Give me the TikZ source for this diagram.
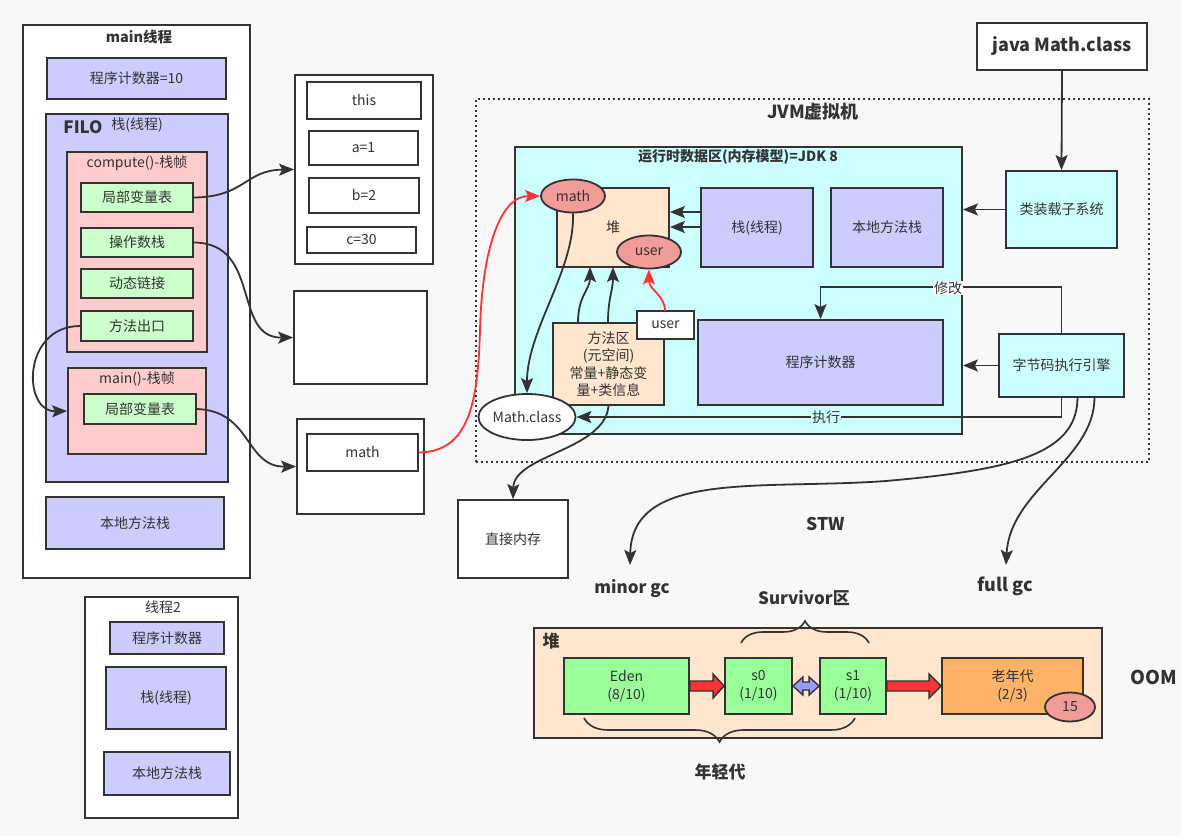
\documentclass[tikz,border=0pt]{standalone}
\usepackage{fontspec}
\setmainfont{Noto Sans CJK SC}
\usetikzlibrary{arrows.meta,calc,decorations.pathreplacing,shapes.geometric}

\definecolor{bgc}{HTML}{F8F8F8}
\definecolor{strk}{HTML}{333333}
\definecolor{lav}{HTML}{CCCCFF}
\definecolor{pinkc}{HTML}{FFCCCC}
\definecolor{lgreen}{HTML}{CCFFCC}
\definecolor{lcyan}{HTML}{CCFFFF}
\definecolor{peach}{HTML}{FFE6CC}
\definecolor{salmon}{HTML}{F19C99}
\definecolor{greenb}{HTML}{99FF99}
\definecolor{orangec}{HTML}{FFB366}
\definecolor{redc}{HTML}{FF3333}
\definecolor{bluec}{HTML}{9999FF}
\definecolor{txt}{HTML}{333333}

\newcommand{\myfn}{\fontsize{14}{17.5}\selectfont}
\newcommand{\myfb}[1]{\bfseries\fontsize{#1}{#1}\selectfont}

\newcommand{\bx}[7]{%
 \pgfmathsetmacro\bxw{#5-#3}\pgfmathsetmacro\bxh{#6-#4}%
 \pgfmathsetmacro\bxcx{(#3+#5)/2}\pgfmathsetmacro\bxcy{(#4+#6)/2}%
 \node[#1, minimum width=\bxw pt, minimum height=\bxh pt] (#2) at (\bxcx,\bxcy) {#7};}

\tikzset{
 box/.style={draw=strk, line width=1.8pt, inner sep=0pt, text=txt, font=\myfn, align=center},
 ell/.style={ellipse, draw=strk, line width=1.8pt, inner sep=0pt, text=txt, font=\myfn},
 ttl/.style={inner sep=1pt, text=txt, font=\myfn},
 bt/.style={inner sep=1pt, text=txt, font=\myfb{17}},
 lbl/.style={inner sep=1pt, text=txt, font=\myfn, fill=white},
 arr/.style={draw=strk, line width=1.8pt, -{Stealth[length=15pt,width=12pt,inset=3pt]}},
 rarr/.style={draw=redc, line width=1.8pt, -{Stealth[length=15pt,width=12pt,inset=3pt]}},
 dotbox/.style={draw=strk, line width=2pt, dash pattern=on 2pt off 3pt, inner sep=0pt},
 brc/.style={draw=strk, line width=1.6pt, decorate},
 blk/.style={draw=strk, line width=1.4pt, line join=miter},
}

\begin{document}
\begin{tikzpicture}[x=1pt,y=-1pt]
\fill[bgc] (0,0) rectangle (1181,836);
\useasboundingbox (0,0) rectangle (1181,836);

% ---- main thread ----
\bx{box,fill=white}{mainT}{23}{25}{250}{578}{}
\node[ttl,font=\myfb{14.5}] (mainTl) at (139,37) {main线程};
\bx{box,fill=lav}{pc1}{47}{58}{226}{99}{程序计数器=10}
\bx{box,fill=lav}{stk}{46}{114}{228}{482}{}
\node[ttl,font=\myfb{17}] (filo) at (83,127) {FILO};
\node[ttl] (stkl) at (137,125) {栈(线程)};
\bx{box,fill=pinkc}{cf}{67}{152}{207}{352}{}
\node[ttl] (cfl) at (137,163) {compute()-栈帧};
\bx{box,fill=lgreen}{lv1}{81}{183}{193}{212}{局部变量表}
\bx{box,fill=lgreen}{ops}{81}{228}{193}{257}{操作数栈}
\bx{box,fill=lgreen}{dyn}{81}{269}{193}{298}{动态链接}
\bx{box,fill=lgreen}{ext}{81}{311}{193}{341}{方法出口}
\bx{box,fill=pinkc}{mf}{68}{368}{206}{454}{}
\node[ttl] (mfl) at (137,379) {main()-栈帧};
\bx{box,fill=lgreen}{lv2}{84}{394}{196}{424}{局部变量表}
\bx{box,fill=lav}{nms1}{46}{497}{224}{549}{本地方法栈}

% ---- variable boxes ----
\bx{box,fill=white}{bA}{295}{75}{433}{264}{}
\bx{box,fill=white}{vthis}{307}{82}{421}{119}{this}
\bx{box,fill=white}{va}{309}{131}{418}{165}{a=1}
\bx{box,fill=white}{vb}{309}{178}{419}{213}{b=2}
\bx{box,fill=white}{vc}{307}{227}{416}{253}{c=30}
\bx{box,fill=white}{bB}{294}{291}{427}{384}{}
\bx{box,fill=white}{bC}{297}{419}{424}{514}{}
\bx{box,fill=white}{vmath}{307}{434}{418}{471}{math}

% ---- thread 2 ----
\bx{box,fill=white}{t2}{85}{597}{238}{818}{}
\node[ttl] (t2l) at (163,607) {线程2};
\bx{box,fill=lav}{pc2}{110}{622}{224}{654}{程序计数器}
\bx{box,fill=lav}{stk2}{106}{667}{226}{729}{栈(线程)}
\bx{box,fill=lav}{nms2}{104}{752}{230}{795}{本地方法栈}

% ---- JVM ----
\bx{dotbox}{jvm}{476}{99}{1149}{462}{}
\node[ttl,font=\myfb{18}] (jvml) at (813,112) {JVM虚拟机};
\bx{box,fill=lcyan}{rt}{515}{147}{962}{434}{}
\node[ttl,font=\myfb{14}] (rtl) at (738,157) {运行时数据区(内存模型)=JDK 8};
\bx{box,fill=peach}{heap}{557}{188}{669}{267}{堆}
\bx{box,fill=lav}{stk3}{701}{188}{813}{267}{栈(线程)}
\bx{box,fill=lav}{nms3}{831}{188}{943}{267}{本地方法栈}
\node[ell,fill=salmon,minimum width=64pt,minimum height=33pt] (mathE) at (573,196) {math};
\node[ell,fill=salmon,minimum width=64pt,minimum height=33pt] (userE) at (649,252) {user};
\bx{box,fill=peach}{ma}{553}{323}{664}{405}{方法区\\(元空间)\\常量+静态变\\量+类信息}
\bx{box,fill=white}{userR}{637}{311}{694}{339}{user}
\bx{box,fill=lav}{pc3}{698}{320}{943}{405}{程序计数器}
\node[ell,fill=white,minimum width=94pt,minimum height=46pt] (mcls) at (527,417) {Math.class};
\bx{box,fill=lcyan}{loader}{1006}{171}{1117}{248}{类装载子系统}
\bx{box,fill=lcyan}{engine}{999}{334}{1124}{397}{字节码执行引擎}
\bx{box,fill=white,font=\myfb{18}}{java}{977}{23}{1147}{70}{java Math.class}
\bx{box,fill=white}{dm}{458}{500}{568}{578}{直接内存}

% ---- labels ----
\node[bt,font=\myfb{17.5}] (stw) at (826,524) {STW};
\node[bt] (minor) at (632,588) {minor gc};
\node[bt,font=\myfb{18}] (full) at (1005,586) {full gc};
\node[bt] (surv) at (804,598) {Survivor区};
\node[bt,font=\myfb{19}] (oom) at (1154,677) {OOM};
\node[bt] (young) at (720,772) {年轻代};

% ---- bottom heap ----
\bx{box,fill=peach}{hp}{534}{628}{1102}{738}{}
\node[bt] (hpl) at (551,641) {堆};
\bx{box,fill=greenb,font=\fontsize{14}{18}\selectfont}{eden}{564}{658}{689}{714}{Eden\\(8/10)}
\bx{box,fill=greenb,font=\fontsize{14}{18}\selectfont}{s0}{725}{658}{792}{714}{s0\\(1/10)}
\bx{box,fill=greenb,font=\fontsize{14}{18}\selectfont}{s1}{820}{658}{886}{714}{s1\\(1/10)}
\bx{box,fill=orangec,font=\fontsize{14}{18}\selectfont}{old}{942}{658}{1083}{714}{老年代\\(2/3)}
\node[ell,fill=salmon,minimum width=50pt,minimum height=29pt] (n15) at (1070,707) {15};

% block arrows
\draw[blk,fill=redc] ($(eden.east)+(0,-5)$) -- ($(s0.west)+(-11,-5)$) -- ($(s0.west)+(-11,-12)$) -- (s0.west)
  -- ($(s0.west)+(-11,12)$) -- ($(s0.west)+(-11,5)$) -- ($(eden.east)+(0,5)$) -- cycle;
\draw[blk,fill=redc] ($(s1.east)+(0,-5)$) -- ($(old.west)+(-12,-5)$) -- ($(old.west)+(-12,-12)$) -- (old.west)
  -- ($(old.west)+(-12,12)$) -- ($(old.west)+(-12,5)$) -- ($(s1.east)+(0,5)$) -- cycle;
\draw[blk,fill=bluec] (s0.east) -- ($(s0.east)+(10,-9)$) -- ($(s0.east)+(10,-4)$) -- ($(s1.west)+(-10,-4)$)
  -- ($(s1.west)+(-10,-9)$) -- (s1.west) -- ($(s1.west)+(-10,9)$) -- ($(s1.west)+(-10,4)$)
  -- ($(s0.east)+(10,4)$) -- ($(s0.east)+(10,9)$) -- cycle;

% braces
\draw[brc,decoration={brace,amplitude=22pt}] (741,643) -- (869,643);
\draw[brc,decoration={brace,amplitude=24pt}] (855,718) -- (584,718);

% ---- connectors left ----
\draw[arr] (lv1.east) .. controls (245,197) and (245,170) .. (bA.west);
\draw[arr] (ops.east) .. controls (262,243) and (232,338) .. (bB.west);
\draw[arr] (ext.west) .. controls (22,326) and (22,412) .. (mf.west);
\draw[arr] (lv2.east) .. controls (252,411) and (245,467) .. (bC.west);

% ---- JVM connectors ----
\draw[arr] (java.south) -- (loader.north);
\draw[arr] (loader.west) -- (loader.west -| rt.east);
\draw[arr] (engine.west) -- (engine.west -| rt.east);
\draw[arr] (engine.north) -- ++(0,-46) -| (pc3.north);
\node[lbl] (xg) at (948,288) {修改};
\draw[arr] (engine.south) |- (mcls.east);
\node[lbl,fill=lcyan] (zx) at (826,417) {执行};
\draw[arr] (stk3.west |- 0,212) -- (heap.east |- 0,212);
\draw[arr] (stk3.west |- 0,227) -- (heap.east |- 0,227);
\draw[arr] (578,323) .. controls (578,295) and (590,290) .. (590,267);
\draw[arr] (608,323) .. controls (608,298) and (613,290) .. (613,267);
\draw[rarr] (665,311) .. controls (665,295) and (649,290) .. (userE.south);
\draw[arr] (mathE.south) .. controls (575,270) and (527,330) .. (mcls.north);
\draw[arr] (ma.south) .. controls (605,450) and (514,455) .. (dm.north);
\draw[rarr] (vmath.east) .. controls (470,452) and (478,400) .. (480,330) .. controls (482,250) and (500,196) .. (mathE.west);

\coordinate (mgc) at (630,565);
\coordinate (fgc) at (1006,565);
\draw[arr] ($(engine.south)+(16,0)$) .. controls (1077,455) and (1010,470) .. (886,481) .. controls (760,490) and (632,470) .. (mgc);
\draw[arr] ($(engine.south)+(33,0)$) .. controls (1094,460) and (1010,490) .. (fgc);
\end{tikzpicture}
\end{document}
